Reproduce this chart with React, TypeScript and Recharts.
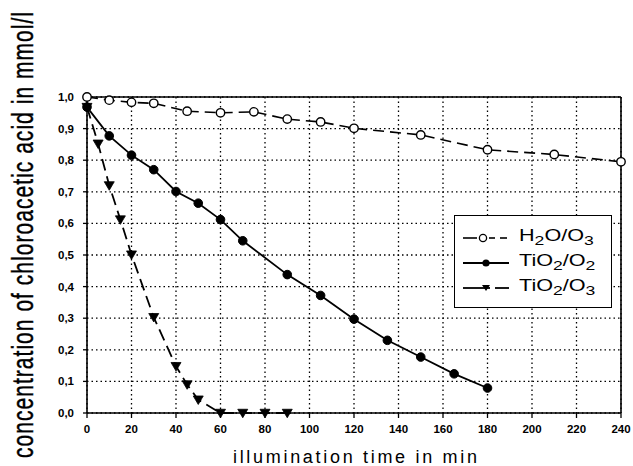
import React from 'react';
import { LineChart, Line, XAxis, YAxis, CartesianGrid, ReferenceLine, Label } from 'recharts';

const timesH2O = [0, 10, 20, 30, 45, 60, 75, 90, 105, 120, 150, 180, 210, 240];
const valuesH2O = [1.0, 0.99, 0.983, 0.98, 0.955, 0.95, 0.953, 0.93, 0.921, 0.901, 0.88, 0.833, 0.818, 0.795];

const timesTiO2O2 = [0, 10, 20, 30, 40, 50, 60, 70, 90, 105, 120, 135, 150, 165, 180];
const valuesTiO2O2 = [0.968, 0.877, 0.816, 0.77, 0.701, 0.664, 0.612, 0.545, 0.438, 0.372, 0.297, 0.23, 0.177, 0.124, 0.079];

const timesTiO2O3 = [0, 5, 10, 15, 20, 30, 40, 45, 50, 60, 70, 80, 90];
const valuesTiO2O3 = [0.968, 0.852, 0.72, 0.612, 0.501, 0.303, 0.148, 0.09, 0.042, 0.0, 0.0, 0.0, 0.0];

const xTicks = [0, 20, 40, 60, 80, 100, 120, 140, 160, 180, 200, 220, 240];
const yTicks = [0, 0.1, 0.2, 0.3, 0.4, 0.5, 0.6, 0.7, 0.8, 0.9, 1.0];

const xLabel = 'illumination time in min';
const yLabel = 'concentration of chloroacetic acid in mmol/l';

const toData = (ts: number[], vs: number[]) => ts.map((t, i) => ({ t, c: vs[i] }));
const dataH2O = toData(timesH2O, valuesH2O);
const dataTiO2O2 = toData(timesTiO2O2, valuesTiO2O2);
const dataTiO2O3 = toData(timesTiO2O3, valuesTiO2O3);

const FONT = 'Liberation Sans, Arial, sans-serif';

const OpenDot = (p: any) => (
  <circle key={p.key} cx={p.cx} cy={p.cy} r={4.2} fill="#fff" stroke="#000" strokeWidth={1.4} />
);
const FilledDot = (p: any) => (
  <circle key={p.key} cx={p.cx} cy={p.cy} r={4.3} fill="#000" stroke="#000" strokeWidth={1} />
);
const TriDot = (p: any) => {
  const { cx, cy } = p;
  const s = 5;
  return (
    <path key={p.key} d={`M${cx - s},${cy - s * 0.75} L${cx + s},${cy - s * 0.75} L${cx},${cy + s * 0.95} Z`} fill="#000" stroke="#000" strokeWidth={0.8} />
  );
};

const fmtY = (v: number) => v.toFixed(1).replace('.', ',');

const sub: React.CSSProperties = { fontSize: 13, position: 'relative', top: 4 };

const legendRows = [
  { key: 'h', label: <span>H<span style={sub}>2</span>O/O<span style={sub}>3</span></span> },
  { key: 'a', label: <span>TiO<span style={sub}>2</span>/O<span style={sub}>2</span></span> },
  { key: 'b', label: <span>TiO<span style={sub}>2</span>/O<span style={sub}>3</span></span> },
];

const LegendBox = () => (
  <div
    style={{
      position: 'absolute',
      left: 454,
      top: 215,
      width: 158,
      height: 93,
      border: '1.6px solid #000',
      background: '#fff',
      boxSizing: 'border-box',
      fontFamily: FONT,
      fontSize: 16,
      color: '#000',
      paddingTop: 8,
      lineHeight: '20px',
    }}
  >
    {legendRows.map((row) => (
      <div key={row.key} style={{ display: 'flex', alignItems: 'center', height: 25 }}>
        <svg width={56} height={20} style={{ marginLeft: 8, flex: 'none' }}>
          {row.key === 'h' && (
            <g>
              <line x1={0} y1={11} x2={14} y2={11} stroke="#000" strokeWidth={1.6} />
              <line x1={26} y1={11} x2={32} y2={11} stroke="#000" strokeWidth={1.6} />
              <line x1={37} y1={11} x2={44} y2={11} stroke="#000" strokeWidth={1.6} />
              <circle cx={20} cy={11} r={3.6} fill="#fff" stroke="#000" strokeWidth={1.3} />
            </g>
          )}
          {row.key === 'a' && (
            <g>
              <line x1={0} y1={11} x2={46} y2={11} stroke="#000" strokeWidth={1.8} />
              <circle cx={23} cy={11} r={3.6} fill="#000" />
            </g>
          )}
          {row.key === 'b' && (
            <g>
              <line x1={0} y1={11} x2={27} y2={11} stroke="#000" strokeWidth={1.8} />
              <line x1={32} y1={11} x2={46} y2={11} stroke="#000" strokeWidth={1.8} />
              <path d="M19,8 L27,8 L23,14 Z" fill="#000" />
            </g>
          )}
        </svg>
        <span style={{ display: 'inline-block', transform: 'scaleX(1.35)', transformOrigin: 'left center' }}>{row.label}</span>
      </div>
    ))}
  </div>
);

const YLabelContent = () => (
  <text
    x={0}
    y={0}
    transform="translate(33,235) scale(1.4,1) rotate(-90)"
    textAnchor="middle"
    fontFamily={FONT}
    fontSize={21}
    textLength={446}
    lengthAdjust="spacing"
    fill="#000"
    stroke="#000"
    strokeWidth={0.3}
  >
    {yLabel}
  </text>
);

const XLabelContent = () => (
  <text
    x={355}
    y={463}
    textAnchor="middle"
    fontFamily={FONT}
    fontSize={18}
    textLength={244}
    lengthAdjust="spacing"
    fill="#000"
  >
    {xLabel}
  </text>
);

export default function App() {
  return (
    <div style={{ position: 'absolute', left: 0, top: 0, width: 633, height: 466, background: '#fff' }}>
      <LineChart width={633} height={466} margin={{ top: 97, right: 12, bottom: 23, left: 0 }}>
        <CartesianGrid stroke="#000" strokeDasharray="1.5 3" strokeWidth={1.3} />
        <XAxis
          type="number"
          dataKey="t"
          domain={[0, 240]}
          ticks={xTicks}
          interval={0}
          height={30}
          allowDuplicatedCategory={false}
          stroke="#000"
          strokeWidth={1.6}
          tickSize={5}
          tickMargin={7}
          tick={{ fill: '#000', fontSize: 11.5, fontWeight: 'bold', fontFamily: FONT }}
          tickLine={{ stroke: '#000', strokeWidth: 1.3 }}
        >
          <Label content={<XLabelContent />} />
        </XAxis>
        <YAxis
          type="number"
          dataKey="c"
          domain={[0, 1]}
          ticks={yTicks}
          interval={0}
          width={87}
          tickFormatter={fmtY}
          stroke="#000"
          strokeWidth={1.6}
          tickSize={4}
          tickMargin={9}
          tick={{ fill: '#000', fontSize: 11.5, fontWeight: 'bold', fontFamily: FONT }}
          tickLine={{ stroke: '#000', strokeWidth: 1.3 }}
        >
          <Label content={<YLabelContent />} />
        </YAxis>
        <ReferenceLine y={1} stroke="#000" strokeWidth={1.6} />
        <ReferenceLine x={240} stroke="#000" strokeWidth={1.6} />
        <Line
          data={dataH2O}
          dataKey="c"
          name="H2O/O3"
          stroke="#000"
          strokeWidth={1.6}
          strokeDasharray="11 6"
          dot={OpenDot}
          isAnimationActive={false}
        />
        <Line
          data={dataTiO2O2}
          dataKey="c"
          name="TiO2/O2"
          stroke="#000"
          strokeWidth={1.8}
          dot={FilledDot}
          isAnimationActive={false}
        />
        <Line
          data={dataTiO2O3}
          dataKey="c"
          name="TiO2/O3"
          stroke="#000"
          strokeWidth={1.8}
          strokeDasharray="12 6"
          dot={TriDot}
          isAnimationActive={false}
        />
      </LineChart>
      <LegendBox />
    </div>
  );
}
